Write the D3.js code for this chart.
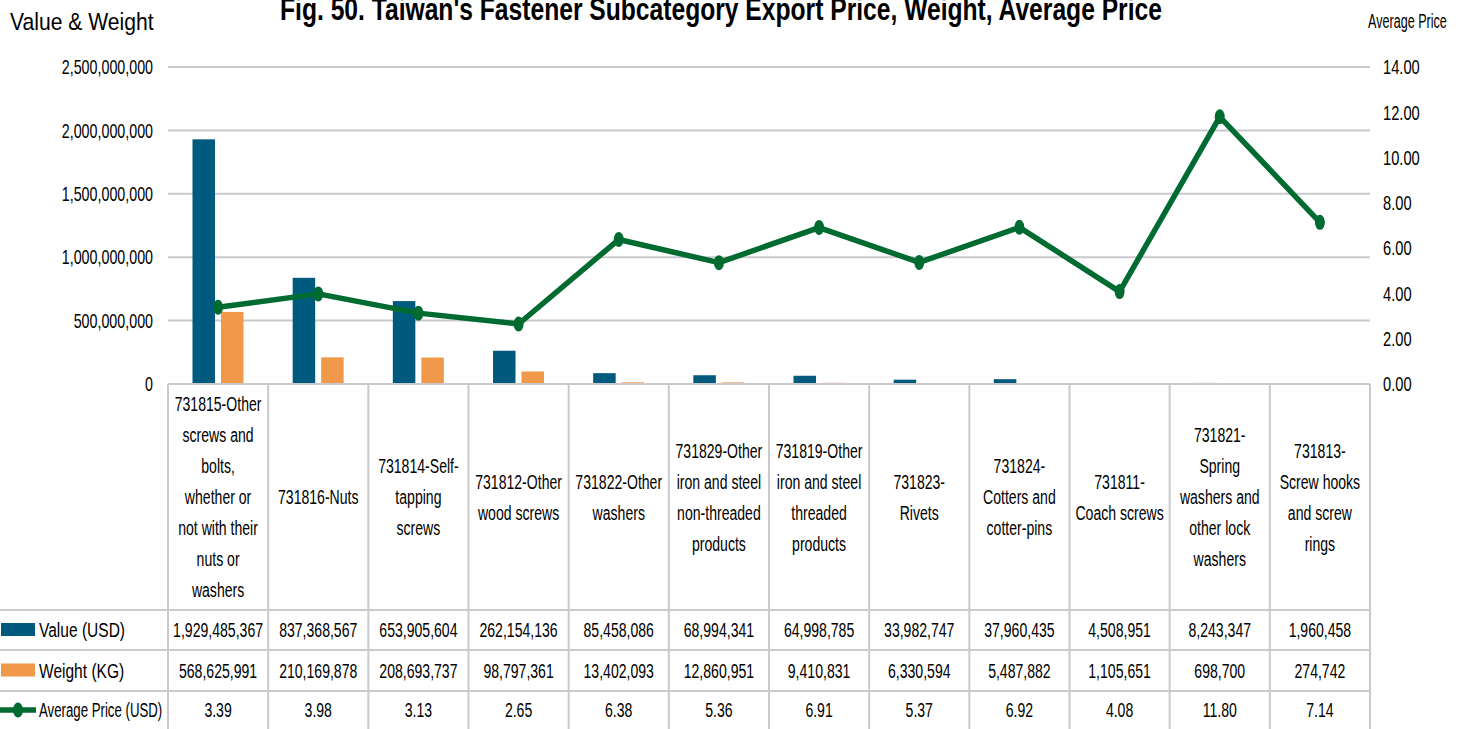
<!DOCTYPE html>
<html>
<head>
<meta charset="utf-8">
<script src="https://cdn.jsdelivr.net/npm/d3@7"></script>
<style>
  html, body { margin: 0; padding: 0; background: #fff; }
  svg { display: block; }
  text { font-family: "Liberation Sans", Arial, sans-serif; fill: #000; }
</style>
</head>
<body>
<svg id="chart" width="1464" height="729"></svg>
<script>
// Category labels ("\n" marks the wrapped lines in the table header)
const categories = [
  "731815-Other\nscrews and\nbolts,\nwhether or\nnot with their\nnuts or\nwashers",
  "731816-Nuts",
  "731814-Self-\ntapping\nscrews",
  "731812-Other\nwood screws",
  "731822-Other\nwashers",
  "731829-Other\niron and steel\nnon-threaded\nproducts",
  "731819-Other\niron and steel\nthreaded\nproducts",
  "731823-\nRivets",
  "731824-\nCotters and\ncotter-pins",
  "731811-\nCoach screws",
  "731821-\nSpring\nwashers and\nother lock\nwashers",
  "731813-\nScrew hooks\nand screw\nrings"
];
const valueUSD = [1929485367, 837368567, 653905604, 262154136, 85458086, 68994341, 64998785, 33982747, 37960435, 4508951, 8243347, 1960458];
const weightKG = [568625991, 210169878, 208693737, 98797361, 13402093, 12860951, 9410831, 6330594, 5487882, 1105651, 698700, 274742];
const avgPrice = [3.39, 3.98, 3.13, 2.65, 6.38, 5.36, 6.91, 5.37, 6.92, 4.08, 11.80, 7.14];

const leftTicks = [0, 500000000, 1000000000, 1500000000, 2000000000, 2500000000];
const rightTicks = [0, 2, 4, 6, 8, 10, 12, 14];

const seriesNames = ["Value (USD)", "Weight (KG)", "Average Price (USD)"];
const titleText = "Fig. 50. Taiwan's Fastener Subcategory Export Price, Weight, Average Price";

const colors = { value: "#005A7D", weight: "#F0994A", price: "#006B31", grid: "#CACACE" };

const svg = d3.select("#chart");
const W = 1464, H = 729;
const plotLeft = 168, plotRight = 1370, plotTop = 67, plotBottom = 384;
const headerBottom = 610;
const rowLines = [610, 650, 691, H];

// Horizontally condense a text element around its anchor x
function narrow(sel, sx, ax) {
  sel.each(function () {
    const el = d3.select(this);
    const a = ax !== undefined ? ax : +el.attr("x") || 0;
    const prev = el.attr("transform");
    el.attr("transform", (prev ? prev + " " : "") + `translate(${a * (1 - sx)},0) scale(${sx},1)`);
  });
}

const x = d3.scaleBand().domain(d3.range(categories.length)).range([plotLeft, plotRight]);
const xSub = d3.scaleBand().domain(["value", "weight"]).range([24.5, 75.5]).paddingInner(0.21);
const yL = d3.scaleLinear().domain([0, 2500000000]).range([plotBottom, plotTop]);
const yR = d3.scaleLinear().domain([0, 14]).range([plotBottom, plotTop]);

// Gridlines
svg.append("g").selectAll("line").data(leftTicks.filter(d => d > 0)).join("line")
  .attr("x1", plotLeft).attr("x2", plotRight)
  .attr("y1", d => yL(d)).attr("y2", d => yL(d))
  .attr("stroke", colors.grid).attr("stroke-width", 2);

// Left axis labels
const leftAxis = d3.axisLeft(yL).tickValues(leftTicks).tickSize(0).tickPadding(15)
  .tickFormat(d3.format(","));
const gL = svg.append("g").attr("transform", `translate(${plotLeft},0)`).call(leftAxis);
gL.select(".domain").remove();
gL.selectAll("text").attr("font-size", 21).style("font-family", null).attr("fill", "#000")
  .call(narrow, 0.68);

// Right axis labels
const rightAxis = d3.axisRight(yR).tickValues(rightTicks).tickSize(0).tickPadding(13)
  .tickFormat(d3.format(".2f"));
const gR = svg.append("g").attr("transform", `translate(${plotRight},0)`).call(rightAxis);
gR.select(".domain").remove();
gR.selectAll("text").attr("font-size", 21).style("font-family", null).attr("fill", "#000")
  .call(narrow, 0.7);

// Bars
svg.append("g").selectAll("rect").data(valueUSD).join("rect")
  .attr("x", (d, i) => x(i) + xSub("value")).attr("width", xSub.bandwidth())
  .attr("y", d => yL(d)).attr("height", d => plotBottom - yL(d))
  .attr("fill", colors.value);
svg.append("g").selectAll("rect").data(weightKG).join("rect")
  .attr("x", (d, i) => x(i) + xSub("weight")).attr("width", xSub.bandwidth())
  .attr("y", d => yL(d)).attr("height", d => plotBottom - yL(d))
  .attr("fill", colors.weight);

// Table grid
const tg = svg.append("g").attr("stroke", colors.grid).attr("stroke-width", 2);
tg.append("line").attr("x1", plotLeft).attr("x2", plotRight).attr("y1", plotBottom).attr("y2", plotBottom);
rowLines.slice(0, 3).forEach(y => {
  tg.append("line").attr("x1", 0).attr("x2", plotRight).attr("y1", y).attr("y2", y);
});
d3.range(categories.length + 1).forEach(i => {
  const xx = i < categories.length ? x(i) : plotRight;
  tg.append("line").attr("x1", xx).attr("x2", xx).attr("y1", plotBottom).attr("y2", H);
});

// Average price line
const line = d3.line().x((d, i) => x(i) + x.bandwidth() / 2).y(d => yR(d));
svg.append("path").datum(avgPrice).attr("d", line)
  .attr("fill", "none").attr("stroke", colors.price).attr("stroke-width", 5.5)
  .attr("stroke-linejoin", "round");
svg.append("g").selectAll("ellipse").data(avgPrice).join("ellipse")
  .attr("cx", (d, i) => x(i) + x.bandwidth() / 2).attr("cy", d => yR(d))
  .attr("rx", 5).attr("ry", 7.5).attr("fill", colors.price);

// Header labels
const lineH = 31;
const headerMid = (plotBottom + headerBottom) / 2;
categories.forEach((c, i) => {
  const lines = c.split("\n");
  const cx = x(i) + x.bandwidth() / 2;
  const t = svg.append("text").attr("text-anchor", "middle").attr("font-size", 21);
  lines.forEach((ln, k) => {
    t.append("tspan").attr("x", cx)
      .attr("y", headerMid + (k - (lines.length - 1) / 2) * lineH + 7.5)
      .text(ln);
  });
  narrow(t, 0.67, cx);
});

// Data rows
const rowData = [
  valueUSD.map(d3.format(",")),
  weightKG.map(d3.format(",")),
  avgPrice.map(d3.format(".2f"))
];
rowData.forEach((row, r) => {
  const cy = (rowLines[r] + rowLines[r + 1]) / 2;
  svg.append("g").selectAll("text").data(row).join("text")
    .attr("x", (d, i) => x(i) + x.bandwidth() / 2).attr("y", cy + 7.5)
    .attr("text-anchor", "middle").attr("font-size", 21).text(d => d)
    .call(narrow, 0.67);
});

// Legend keys in the row headers
const legCy = rowLines.slice(0, 3).map((y, r) => (y + rowLines[r + 1]) / 2);
svg.append("rect").attr("x", 1).attr("y", legCy[0] - 7).attr("width", 34).attr("height", 13).attr("fill", colors.value);
svg.append("rect").attr("x", 1).attr("y", legCy[1] - 7).attr("width", 34).attr("height", 13).attr("fill", colors.weight);
svg.append("line").attr("x1", 0).attr("x2", 36).attr("y1", legCy[2]).attr("y2", legCy[2])
  .attr("stroke", colors.price).attr("stroke-width", 5.5);
svg.append("ellipse").attr("cx", 18).attr("cy", legCy[2]).attr("rx", 5).attr("ry", 7.5).attr("fill", colors.price);
const legScale = [0.74, 0.74, 0.63];
seriesNames.forEach((s, r) => {
  svg.append("text").attr("x", 39).attr("y", legCy[r] + 7.5).attr("font-size", 21)
    .text(s).call(narrow, legScale[r]);
});

// Titles
svg.append("text").attr("x", 721).attr("y", 20).attr("text-anchor", "middle")
  .attr("font-size", 32).attr("font-weight", "bold").text(titleText).call(narrow, 0.77);
svg.append("text").attr("x", 10).attr("y", 30).attr("font-size", 24).text("Value & Weight")
  .call(narrow, 0.88);
svg.append("text").attr("x", 1368).attr("y", 28).attr("font-size", 21).text("Average Price")
  .call(narrow, 0.6);
</script>
</body>
</html>
